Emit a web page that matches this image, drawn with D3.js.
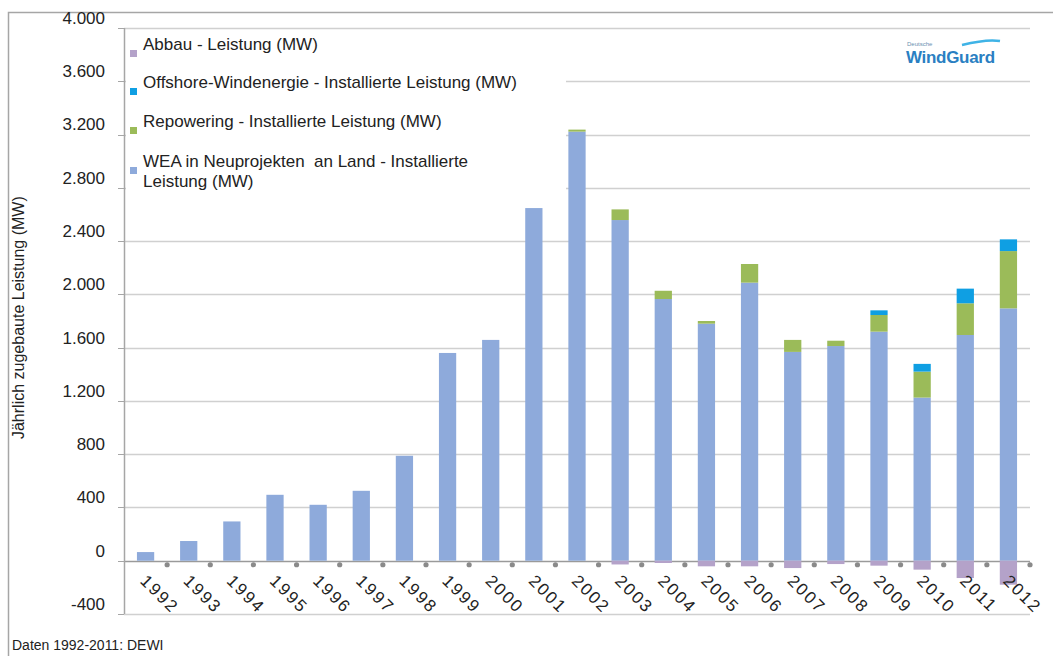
<!DOCTYPE html>
<html><head><meta charset="utf-8">
<script src="https://cdn.jsdelivr.net/npm/d3@7/dist/d3.min.js"></script>
<style>body{margin:0;background:#fff}svg{display:block;font-family:"Liberation Sans",Arial,sans-serif}</style>
</head><body><svg id="c" width="1053" height="656"></svg>
<script>
const years = ["1992","1993","1994","1995","1996","1997","1998","1999","2000","2001","2002","2003","2004","2005","2006","2007","2008","2009","2010","2011","2012"];
const neuLand    = [65,148,295,495,420,525,788,1560,1658,2648,3222,2558,1965,1780,2088,1568,1612,1720,1225,1695,1895];
const repowering = [0,0,0,0,0,0,0,0,0,0,15,80,62,20,140,90,40,125,195,238,430];
const offshore   = [0,0,0,0,0,0,0,0,0,0,0,0,0,0,0,0,0,35,58,110,88];
const abbau      = [0,0,0,0,0,0,0,0,0,0,0,-28,-17,-42,-42,-55,-25,-37,-67,-130,-180];
const yTicks = [-400,0,400,800,1200,1600,2000,2400,2800,3200,3600,4000];
const legendItems = [
  {name:["Abbau - Leistung (MW)"], color:"#b4a2c9"},
  {name:["Offshore-Windenergie - Installierte Leistung (MW)"], color:"#0f9fe3"},
  {name:["Repowering - Installierte Leistung (MW)"], color:"#9bbb59"},
  {name:["WEA in Neuprojekten  an Land - Installierte","Leistung (MW)"], color:"#8eaadb"}
];
const colors = {neu:"#8eaadb", rep:"#9bbb59", off:"#0f9fe3", abb:"#b4a2c9"};

const svg = d3.select("#c");
const x0 = 124, x1 = 1030;
const x = d3.scaleBand().domain(years).range([x0,x1]).paddingInner(0.6).paddingOuter(0.3);
const xb = d3.scaleBand().domain(years).range([x0,x1]).padding(0);
const y = d3.scaleLinear().domain([-400,4000]).range([614,28]);

// outer frame
svg.append("path").attr("d","M8.5,660 V12.5 H1053").attr("fill","none").attr("stroke","#a6a6a6").attr("stroke-width",1.5);

// gridlines
svg.append("g").selectAll("line").data(yTicks).join("line")
  .attr("x1",x0).attr("x2",x1).attr("y1",d=>Math.round(y(d))+0.5).attr("y2",d=>Math.round(y(d))+0.5)
  .attr("stroke",d=>d===0?"#9a9a9a":"#d0d0d0").attr("stroke-width",1.3);

// y axis line + ticks
svg.append("line").attr("x1",x0+0.5).attr("x2",x0+0.5).attr("y1",y(4000)).attr("y2",y(-400)).attr("stroke","#a6a6a6").attr("stroke-width",1.5);
svg.append("g").selectAll("line").data(yTicks).join("line")
  .attr("x1",x0-6).attr("x2",x0).attr("y1",d=>Math.round(y(d))+0.5).attr("y2",d=>Math.round(y(d))+0.5)
  .attr("stroke","#a6a6a6");
const fmt = v => d3.format(",")(v).replace(/,/g,".").replace("−","-");
svg.append("g").selectAll("text").data(yTicks).join("text")
  .attr("x",105).attr("y",d=>y(d)-10).attr("dy","0.35em").attr("text-anchor","end")
  .attr("font-size",17).attr("fill","#222").text(fmt);

// stacked bars
const stack = years.map((yr,i)=>({yr, segs:[
  {c:colors.neu, a:0, b:neuLand[i]},
  {c:colors.rep, a:neuLand[i], b:neuLand[i]+repowering[i]},
  {c:colors.off, a:neuLand[i]+repowering[i], b:neuLand[i]+repowering[i]+offshore[i]},
  {c:colors.abb, a:abbau[i], b:0}
]}));
const bars = svg.append("g");
stack.forEach(s=>{
  bars.selectAll(null).data(s.segs.filter(g=>g.b!==g.a)).join("rect")
    .attr("x",x(s.yr)).attr("width",x.bandwidth())
    .attr("y",g=>y(g.b)).attr("height",g=>y(g.a)-y(g.b)).attr("fill",g=>g.c);
});

// dots at category boundaries
svg.append("g").selectAll("circle").data(years).join("circle")
  .attr("cx",d=>xb(d)+xb.bandwidth()).attr("cy",y(0)+4).attr("r",2.6).attr("fill","#8a8a8a");

// x labels rotated
svg.append("g").selectAll("text").data(years).join("text")
  .attr("transform",d=>`translate(${x(d)+x.bandwidth()/2-2},${y(0)+17}) rotate(45)`)
  .attr("font-size",17).attr("letter-spacing",2).attr("fill","#222").attr("dy","0.35em").text(d=>d);

// y axis title
svg.append("text").attr("transform",`translate(24,${y(1600)-30}) rotate(-90)`)
  .attr("text-anchor","middle").attr("font-size",16).attr("fill","#222").text("Jährlich zugebaute Leistung (MW)");

// legend
const lg = svg.append("g");
lg.append("rect").attr("x",x0+2).attr("y",31).attr("width",440).attr("height",165).attr("fill","#fff");
const lgY = [44,82,121,161];
legendItems.forEach((it,i)=>{
  lg.append("rect").attr("x",130).attr("y",lgY[i]+6).attr("width",7).attr("height",7).attr("fill",it.color);
  it.name.forEach((t,j)=>{
    lg.append("text").attr("x",143).attr("y",lgY[i]+j*20).attr("dy","0.35em").attr("font-size",17)
      .attr("fill","#222").style("white-space","pre").text(t);
  });
});

// logo
const logo = svg.append("g");
logo.append("text").attr("x",907).attr("y",46).attr("font-size",6).attr("fill","#6a8fb0").text("Deutsche");
logo.append("text").attr("x",906).attr("y",63).attr("font-size",17).attr("font-weight","bold").attr("fill","#2a7fc2").attr("letter-spacing","-0.3").text("WindGuard");
logo.append("path").attr("d","M962,45 C974,42 988,39 1000,41").attr("fill","none").attr("stroke","#3fb3e6").attr("stroke-width",2.5);

// footer
svg.append("text").attr("x",12).attr("y",645).attr("dy","0.35em").attr("font-size",14).attr("fill","#222").text("Daten 1992-2011: DEWI");
</script></body></html>
